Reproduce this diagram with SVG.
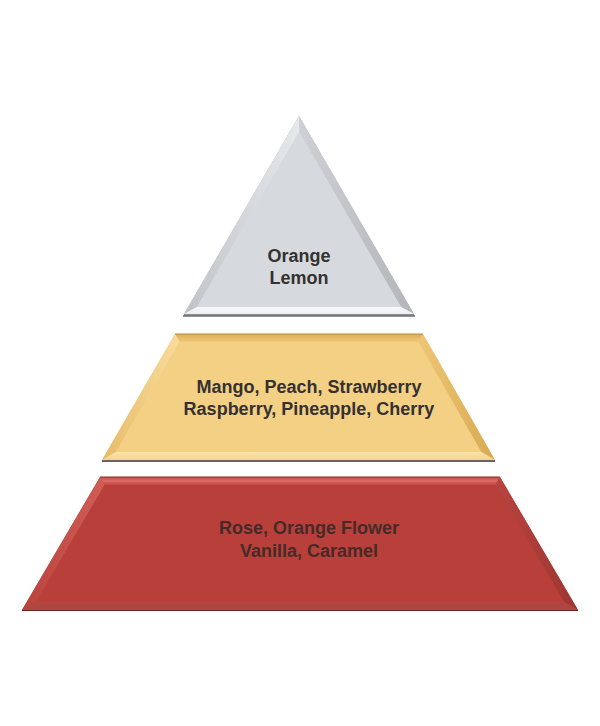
<svg xmlns="http://www.w3.org/2000/svg" width="600" height="726" viewBox="0 0 600 726">
<defs>
<style>
.lbl{font-family:"Liberation Sans","DejaVu Sans",Arial,sans-serif;font-weight:bold;font-size:18px;text-anchor:middle;fill:#343130}
.lblr{fill:#452a28}
</style>
<linearGradient id="gTriL" x1="0" y1="0" x2="1" y2="0"><stop offset="0" stop-color="#bfc3c7"/><stop offset="1" stop-color="#e6e9ec"/></linearGradient>
<linearGradient id="gTriR" x1="0" y1="0" x2="1" y2="0"><stop offset="0" stop-color="#cdd1d5"/><stop offset="1" stop-color="#b2b6ba"/></linearGradient>
<linearGradient id="gTriB" x1="0" y1="0" x2="0" y2="1"><stop offset="0" stop-color="#f7f8fa"/><stop offset="1" stop-color="#eceef0"/></linearGradient>
<linearGradient id="gMidT" x1="0" y1="0" x2="0" y2="1"><stop offset="0" stop-color="#dcae58"/><stop offset="1" stop-color="#f0ca78"/></linearGradient>
<linearGradient id="gMidL" x1="0" y1="0" x2="1" y2="0"><stop offset="0" stop-color="#e6bb68"/><stop offset="1" stop-color="#f9dc9a"/></linearGradient>
<linearGradient id="gMidR" x1="0" y1="0" x2="1" y2="0"><stop offset="0" stop-color="#edc675"/><stop offset="1" stop-color="#d8aa52"/></linearGradient>
<linearGradient id="gMidB" x1="0" y1="0" x2="0" y2="1"><stop offset="0" stop-color="#fbe4ad"/><stop offset="1" stop-color="#f3d38c"/></linearGradient>
<linearGradient id="gBotT" x1="0" y1="0" x2="0" y2="1"><stop offset="0" stop-color="#c2504a"/><stop offset="0.5" stop-color="#de6c66"/><stop offset="1" stop-color="#c04840"/></linearGradient>
<linearGradient id="gBotL" x1="0" y1="0" x2="1" y2="0"><stop offset="0" stop-color="#b8423c"/><stop offset="1" stop-color="#d05e56"/></linearGradient>
<linearGradient id="gBotR" x1="0" y1="0" x2="1" y2="0"><stop offset="0" stop-color="#b84440"/><stop offset="1" stop-color="#9c3632"/></linearGradient>
<linearGradient id="gBotB" x1="0" y1="0" x2="0" y2="1"><stop offset="0" stop-color="#b4443e"/><stop offset="1" stop-color="#a84a42"/></linearGradient>
</defs>
<rect x="0" y="0" width="600" height="726" fill="#ffffff"/>

<g id="node-top">
<polygon points="299,116 415,316 183,316" fill="#8a8e92"/>
<polygon points="299,116 414,314 184,314" fill="#d7dbdf"/>
<polygon points="299,116 299,132 197,307 184,314" fill="url(#gTriL)"/>
<polygon points="299,116 414,314 401,307 299,132" fill="url(#gTriR)"/>
<polygon points="184,314 197,307 401,307 414,314" fill="url(#gTriB)"/>
<polygon points="299,132 401,307 197,307" fill="#d6dade"/>
<line x1="183" y1="316" x2="415" y2="316" stroke="#6e7276" stroke-width="1.5"/>
<text class="lbl" x="299" y="262">Orange</text>
<text class="lbl" x="299" y="284">Lemon</text>
</g>

<g id="node-middle">
<polygon points="175,334 423,334 495,460 102,460" fill="#f2cf82"/>
<polygon points="175,334 423,334 418.4,342 179.6,342" fill="url(#gMidT)"/>
<polygon points="175,334 179.6,342 115.9,452 102,460" fill="url(#gMidL)"/>
<polygon points="423,334 495,460 481.2,452 418.4,342" fill="url(#gMidR)"/>
<polygon points="102,460 115.9,452 481.2,452 495,460" fill="url(#gMidB)"/>
<polygon points="179.6,342 418.4,342 481.2,452 115.9,452" fill="#f4d084"/>
<line x1="175" y1="334" x2="423" y2="334" stroke="#b58a3e" stroke-width="1"/>
<line x1="102" y1="461" x2="495" y2="461" stroke="#3a3024" stroke-width="1.5"/>
<text class="lbl" x="309" y="393">Mango, Peach, Strawberry</text>
<text class="lbl" x="309" y="415">Raspberry, Pineapple, Cherry</text>
</g>

<g id="node-bottom">
<polygon points="100,477 500,477 578,610 22,610" fill="#b9403a"/>
<polygon points="100,477 500,477 495.4,485 104.6,485" fill="url(#gBotT)"/>
<polygon points="100,477 104.6,485 36,602 22,610" fill="url(#gBotL)"/>
<polygon points="500,477 578,610 564,602 495.4,485" fill="url(#gBotR)"/>
<polygon points="22,610 36,602 564,602 578,610" fill="url(#gBotB)"/>
<polygon points="104.6,485 495.4,485 564,602 36,602" fill="#b9403a"/>
<line x1="100" y1="477" x2="500" y2="477" stroke="#8a2a26" stroke-width="1"/>
<line x1="22" y1="610.5" x2="578" y2="610.5" stroke="#6a2420" stroke-width="1"/>
<text class="lbl lblr" x="309" y="534">Rose, Orange Flower</text>
<text class="lbl lblr" x="309" y="557">Vanilla, Caramel</text>
</g>

<g id="connectors"/>
</svg>
